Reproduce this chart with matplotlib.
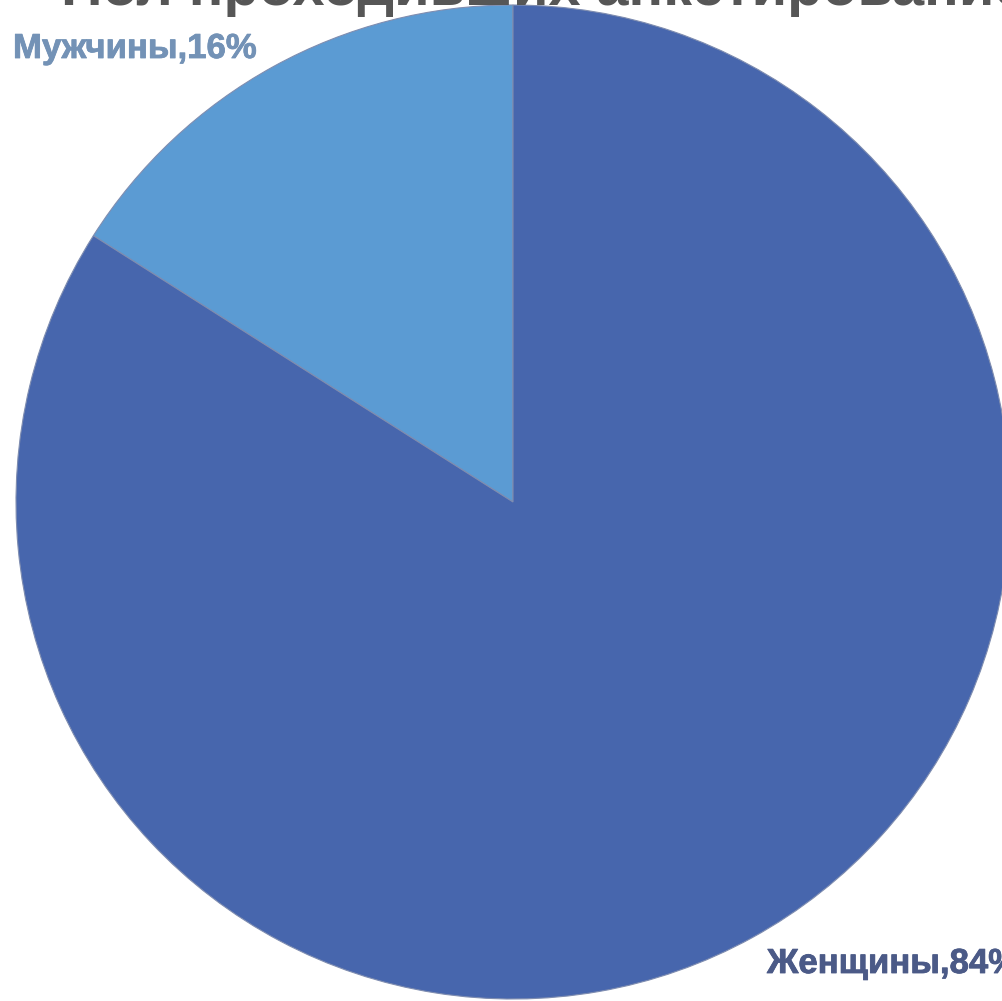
import matplotlib
matplotlib.use("Agg")
import matplotlib.pyplot as plt
import matplotlib.patheffects as pe

# Пол респондентов
groups = ["Мужчины", "Женщины"]
shares = [16, 84]
colors = ["#5b9bd3", "#4766ad"]
label_colors = ["#7392b6", "#4b5a87"]
title = "Пол проходивших анкетирование"

W, H = 1002, 1001

plt.rcParams["font.family"] = ["Liberation Sans", "DejaVu Sans"]

fig = plt.figure(figsize=(W / 100, H / 100), dpi=100)
ax = fig.add_axes([0, 0, 1, 1])
ax.set_xlim(0, W)
ax.set_ylim(0, H)
ax.set_aspect("equal")
ax.axis("off")

ax.pie(shares, colors=colors, startangle=90, counterclock=True,
       center=(513, H - 502), radius=497,
       wedgeprops=dict(edgecolor="#7f8db0", linewidth=0.8))
ax.set_xlim(0, W)
ax.set_ylim(0, H)

# подписи долей
label_pos = [(13, H - 58, "left"), (767, H - 973, "left")]
for name, share, col, (x, y, ha) in zip(groups, shares, label_colors, label_pos):
    ax.text(x, y, f"{name},{share}%", color=col, fontsize=25,
            fontweight="bold", ha=ha, va="baseline",
            path_effects=[pe.withStroke(linewidth=0.6, foreground=col)])

ax.text(61, H - 5, title, color="#565656", fontsize=41.5,
        fontweight="bold", ha="left", va="baseline")

fig.savefig("out.png", dpi=100)
